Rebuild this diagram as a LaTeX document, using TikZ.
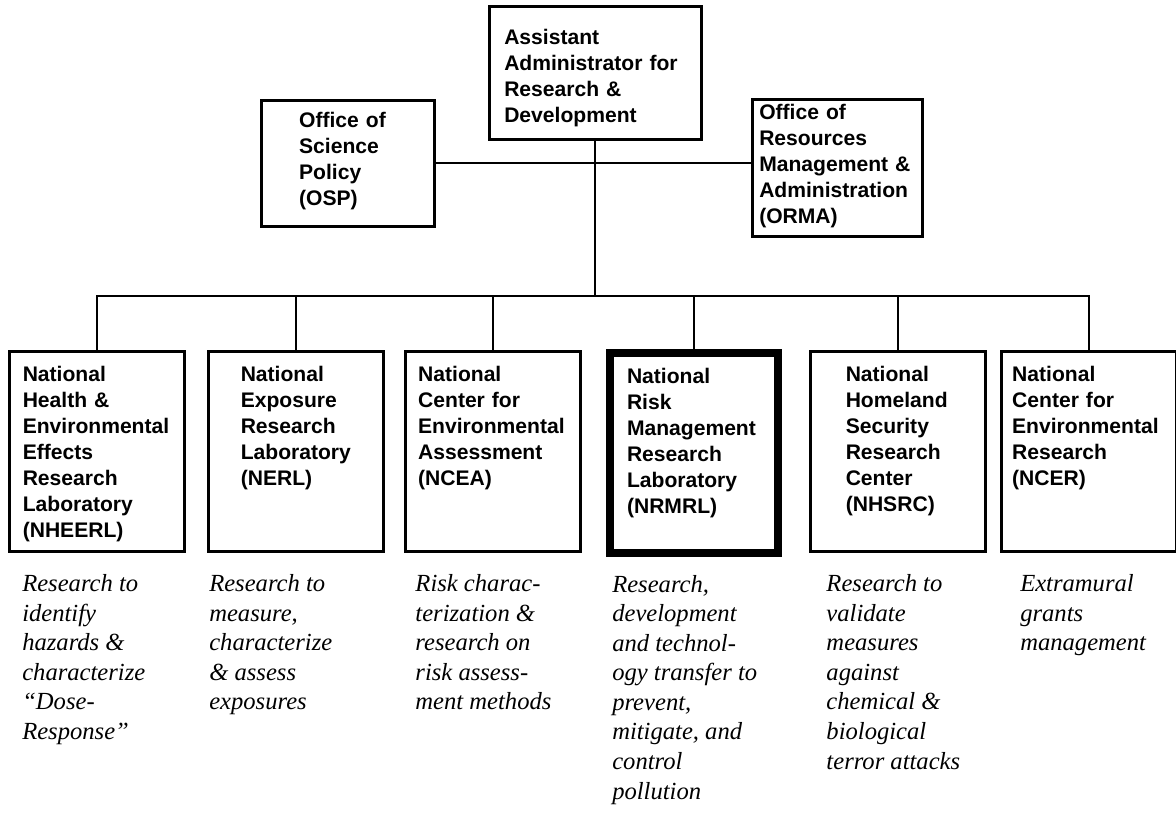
\documentclass[tikz,border=0pt]{standalone}
\usepackage{fontspec}
\setmainfont{Liberation Serif}
\setsansfont{Liberation Sans}
\usepackage{tikz}
\usetikzlibrary{positioning}

\tikzset{
  office/.style={draw, line width=1.8pt, anchor=north west, align=left,
    inner xsep=0pt, inner ysep=0.3cm, minimum width=4.375cm,
    text height=0.45cm, text depth=3.95cm,
    font=\sffamily\bfseries\fontsize{15}{18.5}\selectfont},
  task/.style={anchor=north west, align=left, inner sep=0pt,
    font=\rmfamily\itshape\fontsize{17.5}{21}\selectfont},
  link/.style={line width=1.6pt}
}

\begin{document}
\begin{tikzpicture}
    \useasboundingbox (0,0) rectangle (29.4,-20.4);

    % Head office and staff offices
    \node[office, minimum width=5.3cm, text width=4.55cm, text height=0.65cm, text depth=2.075cm] (aa) at (12.2,-0.125) {Assistant\\Administrator for\\Research \&\\Development};
    \node[office, minimum width=4.325cm, text width=2.43cm, inner ysep=0.2cm, text height=0.475cm, text depth=2.275cm] (osp) at (6.5,-2.475) {Office of\\Science\\Policy\\(OSP)};
    \node[office, minimum width=4.25cm, text width=3.9cm, inner ysep=0.1cm, text height=0.4cm, text depth=2.825cm] (orma) at (18.775,-2.45) {Office of\\Resources\\Management \&\\Administration\\(ORMA)};

    % Labs and centers
    \node[office, text width=3.7cm] (nheerl) at (0.2,-8.75) {National\\Health \&\\Environmental\\Effects\\Research\\Laboratory\\(NHEERL)};
    \node[office, text width=2.75cm] (nerl) at (5.175,-8.75) {National\\Exposure\\Research\\Laboratory\\(NERL)};
    \node[office, text width=3.73cm] (ncea) at (10.1,-8.75) {National\\Center for\\Environmental\\Assessment\\(NCEA)};
    \node[office, line width=5.7pt, minimum width=4.2cm, text width=3.35cm] (nrmrl) at (15.15,-8.725) {National\\Risk\\Management\\Research\\Laboratory\\(NRMRL)};
    \node[office, text width=2.6cm] (nhsrc) at (20.225,-8.75) {National\\Homeland\\Security\\Research\\Center\\(NHSRC)};
    \node[office, text width=3.83cm] (ncer) at (25.0,-8.75) {National\\Center for\\Environmental\\Research\\(NCER)};

    % What each one does
    \node[task, below right=0.55cm and 0.35cm of nheerl.south west] (t1) {Research to\\identify\\hazards \&\\characterize\\“Dose-\\Response”};
    \node[task, below right=0.55cm and 0.05cm of nerl.south west] (t2) {Research to\\measure,\\characterize\\\& assess\\exposures};
    \node[task, below right=0.55cm and 0.28cm of ncea.south west] (t3) {Risk charac-\\terization \&\\research on\\risk assess-\\ment methods};
    \node[task, below right=0.45cm and 0.15cm of nrmrl.south west] (t4) {Research,\\development\\and technol-\\ogy transfer to\\prevent,\\mitigate, and\\control\\pollution};
    \node[task, below right=0.55cm and 0.43cm of nhsrc.south west] (t5) {Research to\\validate\\measures\\against\\chemical \&\\biological\\terror attacks};
    \node[task, below right=0.55cm and 0.5cm of ncer.south west] (t6) {Extramural\\grants\\management};

    % Lines
    \draw[link] (osp.east) -- (osp.east -| orma.west);
    \draw[link] (aa.south) -- (aa.south |- 0,-7.4) coordinate (bus);
    \foreach \u in {nheerl,nerl,ncea,nrmrl,nhsrc,ncer}
        \draw[link] (\u.north) |- (bus);
\end{tikzpicture}
\end{document}
